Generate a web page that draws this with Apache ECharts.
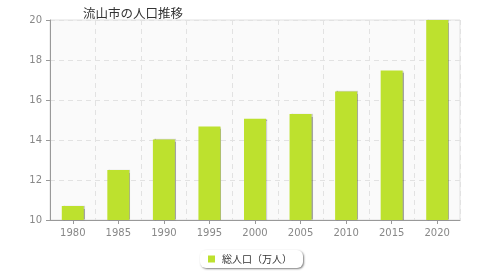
<!DOCTYPE html>
<html><head><meta charset="utf-8">
<script src="https://cdn.jsdelivr.net/npm/echarts@6/dist/echarts.min.js"></script>
<style>html,body{margin:0;padding:0;background:#fff}#c{width:480px;height:280px}</style>
</head><body><div id="c"></div>
<script>
const title = '流山市の人口推移';
const seriesName = '総人口（万人）';
const years = ['1980','1985','1990','1995','2000','2005','2010','2015','2020'];
const population = [10.7, 12.5, 14.03, 14.67, 15.06, 15.3, 16.43, 17.47, 20.0];
const yTicks = {min: 10, max: 20, interval: 2};

const chart = echarts.init(document.getElementById('c'), null, {renderer: 'canvas'});
chart.setOption({
  animation: false,
  title: {text: title, left: 78, top: 2, textStyle: {fontSize: 12.5, fontWeight: 'normal', color: '#333', fontFamily: '"Noto Sans CJK JP", sans-serif'}},
  grid: {left: 50, right: 20, top: 20, bottom: 60, show: true, backgroundColor: '#fafafa', borderColor: '#e0e0e0', borderWidth: 1},
  legend: {
    bottom: 12, left: 200, itemWidth: 7, itemHeight: 7, itemGap: 4,
    padding: [4, 11, 4, 8], backgroundColor: '#fff', borderColor: '#ccc', borderWidth: 0, borderRadius: 6,
    shadowColor: 'rgba(0,0,0,0.5)', shadowBlur: 2, shadowOffsetX: 1, shadowOffsetY: 1,
    textStyle: {fontSize: 10, color: '#333', padding: [0, 0, 0, 2], fontFamily: '"Noto Sans CJK JP", sans-serif'},
    data: [{name: seriesName, icon: 'rect'}]
  },
  xAxis: {
    type: 'category', data: years,
    axisLine: {lineStyle: {color: '#999'}},
    axisTick: {show: true, alignWithLabel: true, length: 4, lineStyle: {color: '#999'}},
    axisLabel: {color: '#888', fontSize: 10, margin: 8, fontFamily: 'DejaVu Sans, sans-serif'},
    splitLine: {show: true, interval: 0, lineStyle: {color: '#e2e2e2', type: [5, 4]}}
  },
  yAxis: {
    type: 'value', min: yTicks.min, max: yTicks.max, interval: yTicks.interval,
    axisLine: {show: true, lineStyle: {color: '#999'}},
    axisTick: {show: true, length: 4, lineStyle: {color: '#999'}},
    axisLabel: {color: '#888', fontSize: 10, margin: 8, fontFamily: 'DejaVu Sans, sans-serif'},
    splitLine: {show: true, lineStyle: {color: '#e2e2e2', type: [5, 4]}}
  },
  series: [{
    name: seriesName, type: 'bar', data: population, barWidth: 22,
    itemStyle: {color: '#bde12e', shadowColor: 'rgba(0,0,0,0.35)', shadowBlur: 1, shadowOffsetX: 1, shadowOffsetY: 0}
  }]
});
</script></body></html>
